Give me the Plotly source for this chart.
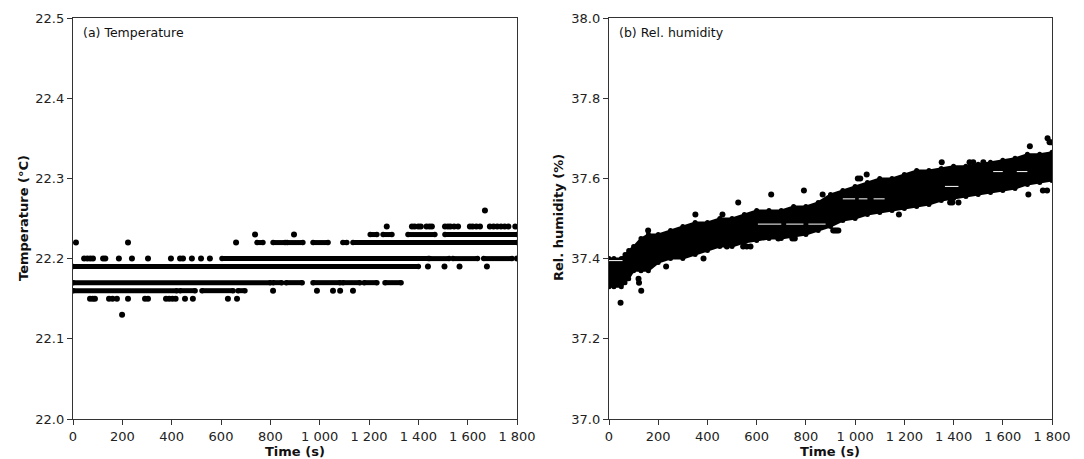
import plotly.graph_objects as go

# ---------------- Temperature panel data ----------------
# continuous runs of readings at a quantised level: level, start time, end time (s)
temp_run_level = [22.19,
                  22.17, 22.17, 22.17, 22.17, 22.17, 22.17, 22.17,
                  22.16, 22.16, 22.16, 22.16,
                  22.20, 22.20, 22.20, 22.20,
                  22.22, 22.22, 22.22, 22.22, 22.22, 22.22,
                  22.23, 22.23, 22.23, 22.23]
temp_run_start = [0,
                  0, 811, 864, 973, 1094, 1180, 1265,
                  0, 434, 523, 669,
                  604, 1445, 1540, 1665,
                  746, 811, 868, 973, 1094, 1135,
                  1205, 1257, 1358, 1508]
temp_run_end = [1400,
                800, 846, 929, 1083, 1163, 1232, 1330,
                421, 495, 649, 697,
                1440, 1525, 1640, 1780,
                770, 860, 932, 1034, 1110, 1800,
                1232, 1293, 1467, 1800]

# isolated readings
temp_dot_time = [12, 223, 661,
                 738, 896,
                 45, 58, 70, 81, 122, 131, 186, 239, 304, 397, 434, 446, 482, 519, 555, 1800,
                 1439, 1506, 1567, 1678,
                 811, 989, 1054, 1083, 1135,
                 69, 80, 89, 146, 160, 178, 223, 292, 304, 377, 390, 403, 416, 454, 486, 628, 665,
                 199,
                 1272, 1374, 1385, 1400, 1410, 1433, 1445, 1455, 1508, 1520, 1530, 1545, 1561,
                 1609, 1620, 1635, 1650, 1690, 1705, 1720, 1735, 1750, 1765, 1793,
                 1670]
temp_dot_value = [22.22, 22.22, 22.22,
                  22.23, 22.23,
                  22.20, 22.20, 22.20, 22.20, 22.20, 22.20, 22.20, 22.20, 22.20, 22.20, 22.20, 22.20, 22.20, 22.20, 22.20, 22.20,
                  22.19, 22.19, 22.19, 22.19,
                  22.16, 22.16, 22.16, 22.16, 22.16,
                  22.15, 22.15, 22.15, 22.15, 22.15, 22.15, 22.15, 22.15, 22.15, 22.15, 22.15, 22.15, 22.15, 22.15, 22.15, 22.15, 22.15,
                  22.13,
                  22.24, 22.24, 22.24, 22.24, 22.24, 22.24, 22.24, 22.24, 22.24, 22.24, 22.24, 22.24, 22.24,
                  22.24, 22.24, 22.24, 22.24, 22.24, 22.24, 22.24, 22.24, 22.24, 22.24, 22.24,
                  22.26]

# ---------------- Relative humidity panel data ----------------
rh_time = [0, 20, 50, 65, 80, 100, 130, 160, 200, 250, 300, 350, 400, 450, 500, 550,
           600, 650, 700, 750, 800, 850, 900, 950, 1000, 1050, 1100, 1150, 1200, 1250,
           1300, 1350, 1400, 1450, 1500, 1550, 1600, 1650, 1700, 1750, 1800]
rh_upper = [37.40, 37.40, 37.40, 37.41, 37.42, 37.43, 37.45, 37.46, 37.46, 37.47, 37.48,
            37.49, 37.49, 37.50, 37.50, 37.51, 37.52, 37.52, 37.52, 37.53, 37.53, 37.54,
            37.56, 37.57, 37.58, 37.59, 37.60, 37.60, 37.61, 37.62, 37.62, 37.625, 37.63,
            37.63, 37.635, 37.64, 37.645, 37.65, 37.66, 37.66, 37.665]
rh_lower = [37.33, 37.33, 37.33, 37.34, 37.35, 37.37, 37.37, 37.37, 37.39, 37.40, 37.40,
            37.41, 37.42, 37.43, 37.43, 37.44, 37.445, 37.45, 37.45, 37.455, 37.46, 37.47,
            37.48, 37.495, 37.50, 37.51, 37.515, 37.52, 37.525, 37.53, 37.535, 37.545, 37.55,
            37.555, 37.56, 37.565, 37.57, 37.575, 37.585, 37.59, 37.595]

# isolated readings outside the main cloud
rh_dot_time = [47, 120, 122, 131, 159, 232, 351, 384, 461, 479, 525, 545, 560, 575, 659,
               688, 745, 755, 792, 868, 911, 918, 925, 932, 1011, 1021, 1047, 1178, 1352, 1386,
               1395, 1420, 1465, 1480, 1521, 1704, 1710, 1763, 1780, 1782, 1790, 1796]
rh_dot_value = [37.29, 37.35, 37.34, 37.32, 37.47, 37.38, 37.51, 37.40, 37.51, 37.43, 37.54,
                37.43, 37.43, 37.43, 37.56, 37.45, 37.45, 37.45, 37.57, 37.56, 37.47, 37.47,
                37.47, 37.47, 37.60, 37.60, 37.61, 37.51, 37.64, 37.54, 37.54, 37.54, 37.64,
                37.64, 37.64, 37.56, 37.68, 37.57, 37.57, 37.70, 37.69, 37.69]

# humidity levels left empty inside the cloud (thin white gaps): level, start, end
rh_gap_level = [37.395, 37.486, 37.486, 37.486, 37.549, 37.549, 37.549, 37.580, 37.617, 37.617]
rh_gap_start = [0, 605, 720, 810, 950, 1015, 1075, 1365, 1561, 1657]
rh_gap_end = [55, 700, 790, 880, 1000, 1050, 1120, 1420, 1600, 1700]

x_tickvals = [0, 200, 400, 600, 800, 1000, 1200, 1400, 1600, 1800]
x_ticktext = ["0", "200", "400", "600", "800", "1 000", "1 200", "1 400", "1 600", "1 800"]
temp_ticks = [22.0, 22.1, 22.2, 22.3, 22.4, 22.5]
rh_ticks = [37.0, 37.2, 37.4, 37.6, 37.8, 38.0]

W, H = 1084, 459
FONT = "DejaVu Sans"
AX = "#333333"

fig = go.Figure()

# temperature runs as thick line segments
rx, ry = [], []
for lv, s, e in zip(temp_run_level, temp_run_start, temp_run_end):
    rx += [s, e, None]
    ry += [lv, lv, None]
fig.add_trace(go.Scatter(x=rx, y=ry, mode="lines+markers", xaxis="x", yaxis="y",
                         line=dict(color="black", width=5),
                         marker=dict(color="black", size=5.5), hoverinfo="skip"))
fig.add_trace(go.Scatter(x=temp_dot_time, y=temp_dot_value, mode="markers", xaxis="x", yaxis="y",
                         marker=dict(color="black", size=6)))

# humidity cloud as filled envelope
fig.add_trace(go.Scatter(x=rh_time + rh_time[::-1], y=rh_upper + rh_lower[::-1],
                         mode="lines", fill="toself", fillcolor="black",
                         line=dict(color="black", width=2), xaxis="x2", yaxis="y2"))
fig.add_trace(go.Scatter(x=rh_time + rh_time, y=rh_upper + rh_lower, mode="markers",
                         marker=dict(color="black", size=5), xaxis="x2", yaxis="y2"))
gx, gy = [], []
for lv, s, e in zip(rh_gap_level, rh_gap_start, rh_gap_end):
    gx += [s, e, None]
    gy += [lv, lv, None]
fig.add_trace(go.Scatter(x=gx, y=gy, mode="lines", line=dict(color="white", width=1),
                         xaxis="x2", yaxis="y2", hoverinfo="skip"))
fig.add_trace(go.Scatter(x=rh_dot_time, y=rh_dot_value, mode="markers",
                         marker=dict(color="black", size=6), xaxis="x2", yaxis="y2"))

def xaxis(domain, anchor):
    return dict(domain=domain, anchor=anchor, range=[0, 1800], tickvals=x_tickvals,
                ticktext=x_ticktext, ticks="outside", ticklen=5, tickwidth=1.2, tickcolor=AX,
                showline=True, linecolor=AX, linewidth=1.3, mirror=True, showgrid=False,
                zeroline=False, automargin=False,
                tickfont=dict(family=FONT, size=13, color="#222"))

def yaxis(domain, anchor, rng, ticks):
    return dict(domain=domain, anchor=anchor, range=rng, tickvals=ticks,
                ticktext=[f"{t:.1f}" for t in ticks], ticks="outside", ticklen=5,
                tickwidth=1.2, tickcolor=AX, showline=True, linecolor=AX, linewidth=1.3,
                mirror=True, showgrid=False, zeroline=False, automargin=False,
                tickfont=dict(family=FONT, size=13, color="#222"))

ydom = [1 - 419 / H, 1 - 18 / H]
fig.update_layout(
    width=W, height=H, margin=dict(l=0, r=0, t=0, b=0, autoexpand=False),
    paper_bgcolor="white", plot_bgcolor="white", showlegend=False,
    xaxis=xaxis([73 / W, 517 / W], "y"),
    yaxis=yaxis(ydom, "x", [22.0, 22.5], temp_ticks),
    xaxis2=xaxis([609 / W, 1052 / W], "y2"),
    yaxis2=yaxis(ydom, "x2", [37.0, 38.0], rh_ticks),
)

def ann(text, x, y, size=13, bold=False, angle=0, xanchor="center"):
    fig.add_annotation(text=f"<b>{text}</b>" if bold else text, x=x / W, y=1 - y / H,
                       xref="paper", yref="paper", showarrow=False, textangle=angle,
                       xanchor=xanchor, yanchor="middle",
                       font=dict(family=FONT, size=size, color="#111"))

ann("(a) Temperature", 81, 33, size=12.5, xanchor="left")
ann("(b) Rel. humidity", 617, 33, size=12.5, xanchor="left")
ann("Time (s)", 295, 451, bold=True)
ann("Time (s)", 830, 451, bold=True)
ann("Temperature (°C)", 24, 218, bold=True, angle=-90)
ann("Rel. humidity (%)", 559, 218, bold=True, angle=-90)

fig.write_html("out.html")
